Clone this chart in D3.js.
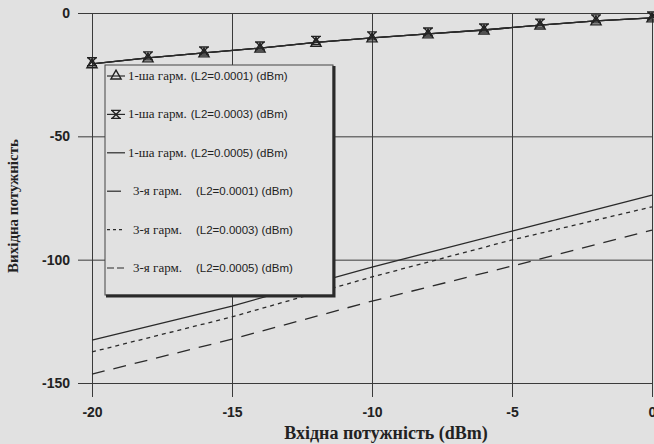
<!DOCTYPE html>
<html>
<head>
<meta charset="utf-8">
<script src="https://cdn.jsdelivr.net/npm/d3@7"></script>
<style>
body { margin: 0; background: #e1e1e1; }
svg { display: block; }
.grid line { stroke: #3a3a3a; stroke-width: 1; }
.grid path { display: none; }
.grid text { font-family: "Liberation Sans", Arial, sans-serif; font-weight: bold; font-size: 14px; fill: #222; }
</style>
</head>
<body>
<svg id="chart" width="654" height="444"></svg>
<script>
// input power (dBm)
var xs1 = [-20, -18, -16, -14, -12, -10, -8, -6, -4, -2, 0];
var xs3 = [-20, -15, -10, -5, 0];

// 1st harmonic
var h1_l1 = [-20.6, -18.2, -16.2, -14.2, -11.9, -10.1, -8.5, -6.9, -4.9, -3.2, -2.0];
var h1_l3 = [-20.6, -18.2, -16.2, -14.2, -11.9, -10.1, -8.5, -6.9, -4.9, -3.2, -2.0];
var h1_l5 = [-20.6, -18.2, -16.2, -14.2, -11.9, -10.1, -8.5, -6.9, -4.9, -3.2, -2.0];

// 3rd harmonic
var h3_l1 = [-132.6, -118.8, -103.0, -88.4, -73.8];
var h3_l3 = [-137.4, -123.2, -107.0, -92.0, -78.6];
var h3_l5 = [-146.4, -132.2, -116.8, -102.6, -88.0];

var xticks = [-20, -15, -10, -5, 0];
var yticks = [0, -50, -100, -150];

var legend_names = [
    ["1-ша гарм.", "(L2=0.0001) (dBm)"],
    ["1-ша гарм.", "(L2=0.0003) (dBm)"],
    ["1-ша гарм.", "(L2=0.0005) (dBm)"],
    ["3-я гарм.", "(L2=0.0001) (dBm)"],
    ["3-я гарм.", "(L2=0.0003) (dBm)"],
    ["3-я гарм.", "(L2=0.0005) (dBm)"]
];

var svg = d3.select("#chart");

var x = d3.scaleLinear().domain([-20, 0]).range([92, 652]);
var y = d3.scaleLinear().domain([-150, 0]).range([383, 13]);

// grid + ticks (ticks stick out past the plot)
svg.append("g")
.attr("class", "grid")
.attr("transform", "translate(652,0)")
.call(d3.axisLeft(y).tickValues(yticks).tickSize(574).tickPadding(8).tickFormat(d3.format("d")));

svg.append("g")
.attr("class", "grid")
.attr("transform", "translate(0,13)")
.call(d3.axisBottom(x).tickValues(xticks).tickSize(384).tickPadding(10).tickFormat(d3.format("d")));

svg.selectAll(".grid text").text(function() { return this.textContent.replace("−", "-"); });

function line_of(xs) {
    return d3.line()
    .x(function(d, i) { return x(xs[i]); })
    .y(function(d) { return y(d); });
}

var plot = svg.append("g");

// 3rd harmonic lines
plot.append("path").datum(h3_l1).attr("d", line_of(xs3))
.attr("fill", "none").attr("stroke", "#2a2a2a").attr("stroke-width", 1.3);
plot.append("path").datum(h3_l3).attr("d", line_of(xs3))
.attr("fill", "none").attr("stroke", "#2a2a2a").attr("stroke-width", 1.3).attr("stroke-dasharray", "4,4");
plot.append("path").datum(h3_l5).attr("d", line_of(xs3))
.attr("fill", "none").attr("stroke", "#2a2a2a").attr("stroke-width", 1.3).attr("stroke-dasharray", "13,9");

// 1st harmonic lines
[h1_l1, h1_l3, h1_l5].forEach(function(s) {
    plot.append("path").datum(s).attr("d", line_of(xs1))
    .attr("fill", "none").attr("stroke", "#2a2a2a").attr("stroke-width", 1.3);
});

var tri = d3.symbol().type(d3.symbolTriangle).size(45);

function star_marker(g) {
    g.append("path").attr("d", "M-5,-4L5,-4M-4,-4L4,4M4,-4L-4,4M-5,4L5,4")
    .attr("fill", "none").attr("stroke", "#222").attr("stroke-width", 1.4);
}
function tri_marker(g) {
    g.append("path").attr("d", tri()).attr("fill", "none").attr("stroke", "#222").attr("stroke-width", 1.4);
}

h1_l1.forEach(function(d, i) {
    var g = plot.append("g").attr("transform", "translate(" + x(xs1[i]) + "," + (y(d) + 1) + ")");
    tri_marker(g);
});
h1_l3.forEach(function(d, i) {
    var g = plot.append("g").attr("transform", "translate(" + x(xs1[i]) + "," + (y(d) - 2) + ")");
    star_marker(g);
});

// legend
var lg = svg.append("g");
lg.append("rect").attr("x", 105).attr("y", 65).attr("width", 228).attr("height", 230)
.attr("fill", "#e1e1e1").attr("stroke", "#444").attr("stroke-width", 1);
lg.append("path").attr("d", "M334,66L334,296L106,296")
.attr("fill", "none").attr("stroke", "#2a2a2a").attr("stroke-width", 3);

var dashes = [null, null, null, null, "3,3", "7,3"];
legend_names.forEach(function(n, i) {
    var yy = 76 + i * 38.4;
    var x0 = i < 3 ? 128 : 133;
    lg.append("line").attr("x1", 107).attr("x2", i == 3 ? 121 : 125).attr("y1", yy).attr("y2", yy)
    .attr("stroke", "#2a2a2a").attr("stroke-width", 1.2).attr("stroke-dasharray", dashes[i]);
    if (i == 0) tri_marker(lg.append("g").attr("transform", "translate(116," + yy + ")"));
    if (i == 1) star_marker(lg.append("g").attr("transform", "translate(116," + yy + ")"));
    var t = lg.append("text").attr("x", x0).attr("y", yy + 4).attr("fill", "#222");
    t.append("tspan").attr("font-family", "Liberation Serif, serif").attr("font-size", "13px").text(n[0]);
    t.append("tspan").attr("dx", i < 3 ? 4 : 14).attr("font-family", "Liberation Sans, Arial, sans-serif")
    .attr("font-size", "11.5px").text(n[1]);
});

// axis titles
svg.append("text").attr("x", 386).attr("y", 439)
.attr("text-anchor", "middle").attr("font-family", "Liberation Serif, serif")
.attr("font-weight", "bold").attr("font-size", "18px").attr("fill", "#222")
.text("Вхідна потужність (dBm)");

svg.append("text").attr("transform", "translate(18,206) rotate(-90)")
.attr("text-anchor", "middle").attr("font-family", "Liberation Serif, serif")
.attr("font-weight", "bold").attr("font-size", "15px").attr("fill", "#222")
.text("Вихідна потужність");
</script>
</body>
</html>
